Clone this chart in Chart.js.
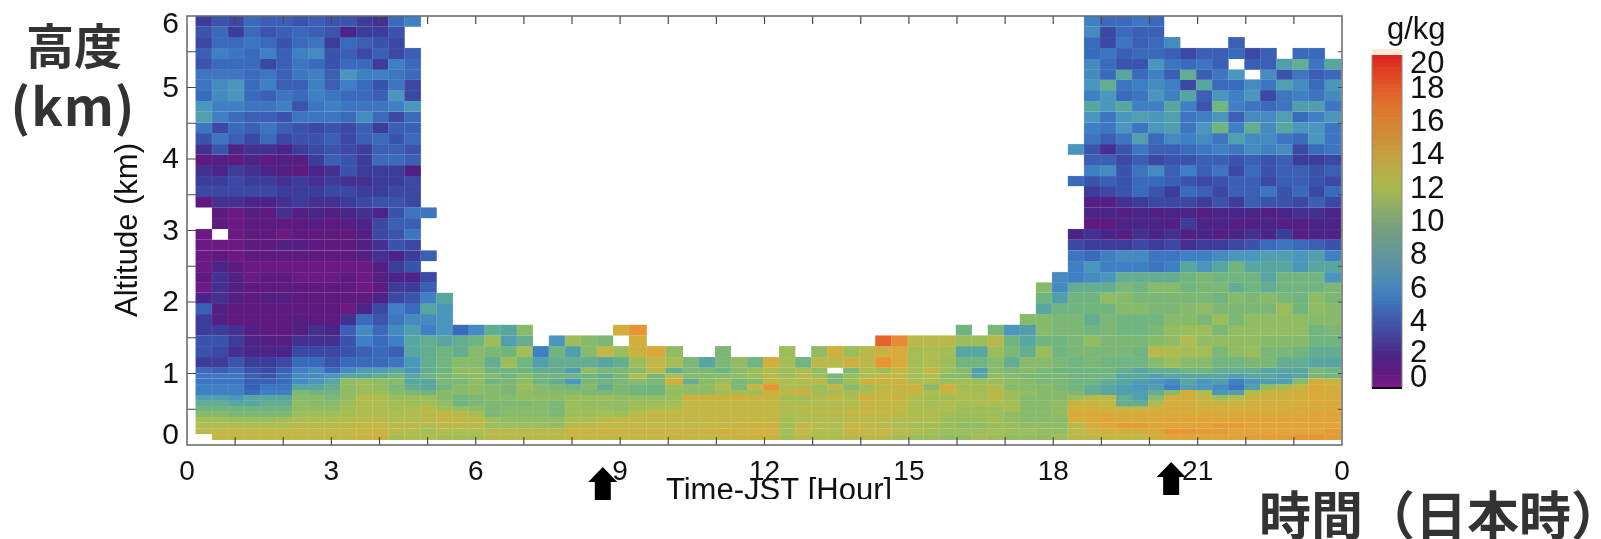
<!DOCTYPE html>
<html>
<head>
<meta charset="utf-8">
<script src="https://cdn.jsdelivr.net/npm/chart.js@4/dist/chart.umd.min.js"></script>
<style>
    body { margin: 0; background: #fff; }
    canvas { position: absolute; top: 0; }
</style>
</head>
<body>
<canvas id="mainChart" width="1601" height="539" style="left:0"></canvas>
<canvas id="barChart" width="251" height="539" style="left:1350px"></canvas>
<script>
const n = null;
const gap = count => new Array(count).fill(null);

// column centres, hours JST (the 9.75 column is wider in the source)
const times = [0.35,0.69,1.02,1.35,1.69,2.02,2.35,2.69,3.02,3.35,3.69,4.02,4.35,4.69,5.02,5.35,5.69,6.02,6.35,6.69,7.02,7.35,7.69,8.02,8.35,8.69,9.02,9.35,9.75,
    10.14,10.47,10.81,11.14,11.47,11.81,12.14,12.47,12.81,13.14,13.47,13.81,14.14,14.47,14.81,15.14,15.47,15.81,16.14,16.47,16.81,17.14,17.47,17.81,18.14,18.47,18.81,19.14,19.47,19.81,20.14,20.47,20.81,21.14,21.47,21.81,22.14,22.47,22.81,23.14,23.47,23.81];

// row edges, km
const altEdges = [6.00,5.85,5.70,5.55,5.40,5.25,5.11,4.96,4.81,4.66,4.51,4.36,4.21,4.06,3.91,3.76,3.62,3.47,3.32,3.17,3.02,2.87,2.72,2.57,2.42,2.27,2.13,1.98,1.83,1.68,1.53,1.38,1.23,1.08,
    1.00,0.93,0.85,0.77,0.70,0.62,0.54,0.47,0.39,0.31,0.23,0.15,0.07];

// g/kg, top 26 rows, left block (columns 0-14)
const upperLeft = [
    [3,4,3.5,5,4.5,4.5,4,4.5,4,4,3,2.5,5,6,n],
    [4,5,3,5,4,4.5,5,4.5,4,2,3,3,4,n,n],
    [3.5,5,5,5.5,5,4,5,5.5,3,5,4.5,4,3.5,n,n],
    [4.5,6,5.5,5,6,4.5,6,6.5,4,4.5,3.5,4.5,3.5,4.5,n],
    [4,5,5,5,3.5,4.5,5.5,5,4,5,5,3,6,5,n],
    [5.5,5.5,5.5,5,5.5,4.5,5.5,6,4.5,7,6,6,5.5,5,n],
    [5.5,6.5,7,5,6,4.5,4.5,6,4.5,6,5,4,5.5,3.5,n],
    [5,6.5,7,5,4.5,5.5,5,6,5.5,5,5,4.5,7,3.5,n],
    [7,6,6,5.5,5.5,6,4,5.5,6,5.5,5.5,5.5,6,7,n],
    [7.5,6,5,4.5,4.5,4,5.5,5.5,5.5,5,6.5,5,3.5,5,n],
    [5.5,3.5,5,4.5,5.5,4.5,4,3.5,4,3.5,4.5,3,4.5,4.5,n],
    [4,5.5,4.5,3.5,5,3.5,4,4,4.5,3.5,4.5,5,4,5,n],
    [2.5,4,2,2.5,2.5,2,3,3.5,4,3.5,3,4.5,4.5,4,n],
    [1,1.5,1,2,1,1.5,1.5,3,4.5,4,3,5,5,4.5,n],
    [2.5,2,3,2.5,2,1.5,1,2,2.5,4,3,3,3,1.5,n],
    [3,3,3.5,3,3,2.5,3,2.5,3,2.5,2.5,3,3,3.5,n],
    [3.5,3.5,3.5,3.5,3.5,3,3,3,3.5,3.5,3,3,3.5,3.5,n],
    [1,2.5,2.5,2,2,2.5,3,2.5,2.5,3,3.5,4,4,3.5,n],
    [n,1,0.5,1.5,1,2.5,1.5,2,1.5,2,2.5,2,4,5.5,5.5],
    [n,1,0.5,1,1,1,1,1.5,1,1.5,2,3.5,4.5,4.5,n],
    [0.5,n,0.5,1,1,0.5,1,1,1,1,1.5,3.5,4,5.5,n],
    [0.5,0.5,0.5,1,1,1.5,1.5,1,1,1,1.5,2.5,4,3.5,n],
    [0.5,1,0.5,1,1,1,1,1,1,1,1.5,2.5,2,3,4.5],
    [0.5,2,1,0.5,0.5,0.5,0.5,0.5,0.5,0.5,0.5,1.5,3,4,n],
    [1,2.5,1.5,0.5,1,1,0.5,0.5,0.5,1,0.5,1.5,2,2,3.5],
    [0.5,2.5,1.5,1,1,1,1,1,1,1,0.5,1,3,3,4.5]
];

// g/kg, top 26 rows, right block (columns 52-70)
const upperRight = [
    [n,n,n,6,5,5,5.5,5,n,n,n,n,n,n,n,n,n,n,n],
    [n,n,n,6.5,3.5,5,4.5,4.5,n,n,n,n,n,n,n,n,n,n,n],
    [n,n,n,5,3.5,5.5,4.5,5,6.5,n,n,n,4.5,n,n,n,n,n,n],
    [n,n,n,5,5.5,4.5,5,5,4.5,3.5,4.5,4.5,5,3.5,4.5,n,5,5,n],
    [n,n,n,6.5,5,4,4,7,5.5,5,5.5,4.5,n,4.5,4.5,7.5,8.5,5.5,8],
    [n,n,n,6.5,5,8,5,6,4.5,8.5,4.5,5.5,7,n,6.5,4,5.5,4.5,5],
    [n,n,n,7,8.5,5.5,6,6.5,6,3.5,8,5,5,6.5,5.5,7.5,6.5,5,7],
    [n,n,n,6,7,5,5.5,7,6,8,4.5,7,6,7,3.5,5.5,6,5.5,6.5],
    [n,n,n,8,7,8,6,6,8,6,4,9,6,5.5,5,5.5,7.5,7.5,5.5],
    [n,n,n,7,5.5,7,7.5,7,7.5,5.5,6,7,4.5,6.5,6.5,7.5,5,6,7],
    [n,n,n,6,5.5,7,5.5,7,7.5,5.5,7,9,6,8.5,6.5,8,7,7,5.5],
    [n,n,n,5.5,4.5,5.5,7.5,5,6.5,6,6.5,5.5,7.5,6.5,6.5,5.5,5,7,5.5],
    [n,n,7,4,2.5,4,5.5,4.5,4.5,5,5.5,6,5.5,6.5,6,6.5,3.5,5,5.5],
    [n,n,n,4.5,4.5,3.5,4.5,3.5,4,4,4.5,4.5,4,4.5,4,4.5,3,3,3.5],
    [n,n,n,6,6.5,4,5.5,6.5,4.5,6,4.5,5.5,3.5,5,4,4.5,4.5,4,4.5],
    [n,n,5,4,4.5,4,5,5,4.5,4,3.5,4,4.5,4.5,3.5,4.5,4.5,4,3.5],
    [n,n,n,3,3.5,4,5,4,3,5,4.5,3.5,4.5,4.5,5.5,4,5,3.5,5],
    [n,n,n,1.5,1.5,2.5,3,3.5,3.5,3.5,3,4,3,4.5,4,4,3.5,4.5,3.5],
    [n,n,n,2,2,1.5,2,1.5,2,2,1.5,2,2,2,1.5,2,2.5,2.5,2],
    [n,n,n,1,1,2,2,2,1.5,3,2,2,1.5,1.5,2,1.5,1.5,2,2],
    [n,n,2,2.5,2,1.5,2.5,2,2.5,1.5,2,1.5,2,2.5,2,3,1.5,2,2],
    [n,n,3.5,3,3,3,3.5,3,3.5,2.5,3,3,3.5,4,5,5.5,5,4.5,4],
    [n,n,5.5,5,6,6.5,6.5,5.5,5.5,6,6,6.5,7,7,7.5,7.5,7,7.5,6],
    [n,n,6,7,6,6,6,5.5,6,8,7,8,9,8,8,8,7,8,8],
    [n,6.5,6,6.5,7,8.5,8.5,8.5,8.5,9,9.5,9,9,9,8,9,9,9,7],
    [10,6.5,8.5,8.5,8.5,9.5,9,10,10,9,9.5,9.5,8.5,9,8.5,9,9,9,9.5]
];

// g/kg, seven rows between 2.13 and 1.08 km, all 71 columns
const midRows = [
    [2,2.5,1.5,1,1.5,1.5,1,1,1,1,1,2,3.5,4,6,8,...gap(36),9,7.5,9,9,10.5,10,9.5,9.5,9.5,9.5,9.5,9,10,9.5,10,9.5,9,10.5,9.5],
    [4.5,1.5,1,1,1,1,1,1,1,0.5,2,3.5,6,5,8,7,...gap(36),8,9,9,9,9,10,10,9.5,9.5,10,10.5,9.5,9.5,9.5,9.5,11,9,10.5,10],
    [3,1.5,1,1,1,1,1.5,1,1,2.5,5,4,5.5,6.5,6.5,7,...gap(35),10,10,9.5,9.5,8.5,9.5,9,9,9,10,10,9.5,11,9.5,10.5,10.5,10.5,10.5,10,10],
    [3,3,2.5,1.5,1,1,1.5,2.5,2,4.5,6.5,5,6.5,7.5,6,7,5,6.5,8.5,8,10,...gap(5),14,16,...gap(19),9,n,9.5,7,7.5,10,9.5,9.5,9,9.5,9,9,9.5,10.5,11,11,9.5,10.5,10.5,10.5,10.5,10.5,9,9.5],
    [4,4,3,2,1.5,1.5,2.5,2.5,2.5,4,6,5,6,8,8.5,8,8.5,9,11,7.5,8.5,n,7,11,10,9.5,n,14,...gap(14),18,16.5,12.5,12.5,12.5,11,11,12.5,9,8,9,9,9.5,10.5,9.5,9.5,9.5,10,10.5,12,10.5,10.5,10.5,10.5,10,10,10,9,9],
    [4,3.5,2.5,2,2,2,3.5,3.5,3.5,4,4.5,5,4.5,8,8.5,9,8.5,10,9.5,9,11.5,6,9,7.5,10,13,11,13.5,14.5,10.5,n,n,9.5,n,n,n,11,n,10.5,14,11,12.5,13.5,14.5,11.5,12,11.5,8,8,11,9.5,8.5,11,9,9.5,9.5,9.5,9.5,9,12.5,12,11.5,11.5,9.5,10.5,11,9.5,9.5,9,8.5,8.5],
    [3,3,4,3,3,3.5,5,5,4,5,5,5,5.5,7,8.5,9,10,10,8.5,11,9,7.5,8.5,8.5,8.5,8,8.5,11,13,11.5,9.5,8,9.5,10.5,9,14,11.5,9,12.5,12.5,13.5,12.5,16,14.5,11.5,12,11,9,9,10,8.5,10,10,9.5,9,9.5,9,9,9,10,11,10,10,9,9,9.5,9.5,8.5,8.5,8,8]
];

// g/kg, thin rows from 1.08 km down to 0.07 km
const lowRows = [
    [5,4.5,5,4,3.5,4.5,6,6.5,5,6.5,7.5,7.5,8,7,8.5,9,10.5,10.5, 9,9,9,8.5,8.5,7.5,10.5,9.5,9.5,10,12.5, 8.5,9.5,9.5,9,10,11,12,11,12,10.5,n,9.5,12,11,13,11.5,13,11, 10,7.5,10,9.5,10,9.5,9,9,9,9,8.5,8, 8.5,8.5,9,9,8.5,8.5,8.5,8,8,8,9.5,9],
    [5.5,5.5,5.5,4.5,4,5,6.5,6.5,7,8,8,8.5,9,8,9,9.5,10,10.5, 10,9,10,9,9,9,9,8.5,9.5,12,9.5, 12,10,10,10,10.5,11,12.5,11,12.5,11,9.5,11,12,13,13,11.5,12,10, 10,8,10.5,10,9.5,9.5,9.5,9,9,9,8,8, 7.5,8,8,8,8,7.5,8,8,7.5,8,9.5,9],
    [5.5,5.5,5.5,4.5,4.5,5,6.5,7,8,10.5,11,10.5,10,8,8,9.5,9.5,10.5, 9,9.5,10.5,9,8.5,7,9.5,9,9.5,10,9.5, 14,8.5,10,11,9.5,10,13,12,12,12.5,9.5,11,14,13.5,13.5,12,12,11, 11.5,11,11,10.5,10,9.5,9.5,9,9,8.5,8,7.5, 7,6.5,8,7,7.5,6,7,7.5,7.5,10,14,13.5],
    [6,6,6,4.5,5.5,5.5,8,8,8.5,10.5,11,10.5,9.5,8.5,8,9,10,10.5, 10,9.5,11,10,9.5,9,10,8.5,9.5,9,9, 11,10.5,10.5,12,9.5,13,16,12,12,11,13,10,11.5,12.5,13.5,13.5,10,14, 11.5,11.5,12,10,10,10,9.5,9,8.5,8,7.5,7, 7.5,6,7.5,7,6.5,5.5,7.5,10.5,11.5,13,14.5,14],
    [6,6,6,5,6,6,9.5,9,9,10.5,11,11,10,9.5,9,10,10,10.5, 10,9.5,10.5,10,10,10,9.5,9.5,9.5,9,9, 10.5,10.5,10.5,11.5,11.5,11,13.5,13,14,11.5,11.5,11.5,12,13,13,13,12,13, 12,11.5,12.5,11,10.5,10,10,9.5,8.5,8,7.5,7.5, 8.5,10,14,12,7,7.5,12,13.5,14,14,14.5,14],
    [7.5,7.5,7,8,8,8,10,10,9.5,10.5,12.5,12,11,11,11,10,9,9.5, 10,10,10.5,10.5,10.5,11,11,11,10.5,10.5,10.5, 11,14,13.5,13.5,14,13.5,13.5,11.5,11.5,12,13,12,14,13,13.5,12,11.5,11.5, 12,11.5,12.5,11,10,10,10,11,12.5,12.5,8.5,7.5, 10,14,14,13,11,12,13.5,13.5,13.5,14,14.5,14.5],
    [8.5,8.5,8,8,8.5,8.5,10.5,10,10,11,12,12,11.5,11,11.5,10.5,9,9.5, 9.5,9.5,9.5,10,9.5,11,10.5,10.5,10.5,11,11, 11.5,13,13,13,13,13,13,12,12,12,12,12,13,13,13,12,11.5,12, 11.5,12,12,11.5,10,10,10.5,13.5,13.5,13,8.5,8.5, 12,14,14,13.5,13.5,13.5,14,14,14,14,14.5,14.5],
    [9,9,9,9,9,9,10.5,10.5,10.5,11.5,12,12,11.5,12,12.5,11.5,11,10.5, 9.5,10,10,10,9.5,11,11,11,10.5,11.5,12, 12,13,13,13,13,13,13,12,12.5,12.5,12.5,12.5,13.5,13,13,12,12,12, 11,11,11,11.5,10,10,10.5,14,14,13.5,13,13, 14,14.5,14.5,14,14,14,14,14,14,14.5,14.5,14.5],
    [10,10,9.5,9.5,9.5,9.5,11,11,11,11.5,12,12,12,12,12.5,13,12.5,11.5, 9.5,10,10,10,9.5,11,11,11.5,11,12.5,13, 13,13,13,13,13,13,13,12,12,12.5,12.5,13,13,13,12.5,12,12,11.5, 11,11,11,10.5,10,10,10.5,14.5,14.5,14.5,14.5,14.5, 14.5,14.5,14.5,14.5,14.5,14.5,14.5,14.5,14.5,14.5,15,15],
    [11.5,11.5,11,11,11,11.5,12,12,12,12.5,12.5,12.5,12,12,12.5,13,13,12.5, 11,10.5,10.5,10.5,10.5,12,12,12.5,13,13,13, 13,13,13,13,13,13,13,11.5,12,12,12,12.5,12.5,12.5,12,12,12,11, 11,11,11.5,10.5,10,10,10,14,14.5,15,14.5,14.5, 14.5,15,15,15,15,15,15,15,15,15,15,15],
    [12,12,12,12,12,12,12.5,12.5,12.5,12.5,13,13,12.5,12.5,12,12.5,12.5,12.5, 11,11,11,11,10.5,12.5,12.5,13,13,13,13, 13,13,13,13,13.5,13.5,13.5,11.5,13,12.5,12,13,13,12.5,12,11.5,11.5,11, 10.5,10.5,11,11,10.5,10.5,10.5,12.5,14,15,15.5,15.5, 15,15,15,15,15.5,15.5,15,15,15,15,15,15],
    [12.5,13,13,13,13,13,13,13,13,13,13.5,13.5,12.5,12,11.5,12,12,12, 12.5,12.5,12.5,12.5,12.5,13.5,13.5,13.5,13.5,13.5,13.5, 13.5,13.5,13.5,14,13.5,14,14,11.5,13,12,12,13.5,13,13,12.5,12,11.5,11, 11,11,11.5,11,11,10.5,10.5,12.5,13.5,14,14,14, 14.5,16,16,15.5,15.5,15,15,15,15,15,15,15.5],
    [n,13,13,13,13,13,13,13,13,13,13.5,13.5,11.5,12,12,11.5,11.5,11.5, 12.5,12.5,12.5,12.5,12.5,13,13,13,13,13,13, 13.5,13,13,13,13.5,13.5,13.5,11.5,12.5,12,12,12.5,12.5,12.5,11.5,11,11,10.5, 10.5,11.5,11,10.5,10.5,10.5,11,12.5,12.5,13,13,13, 14,15,15,14.5,15,15,15.5,15.5,15.5,16,16,15.5]
];

const xTickHours = [0,3,6,9,12,15,18,21,24];
const yTickLabels = ['0','1','2','3','4','5','6'];
const barTickLabels = ['0','2','4','6','8','10','12','14','16','18','20'];
const arrowHours = [8.64, 20.45];

const cellColors = ['#7a1a88','#5e1a7e','#4a2488','#3c3c9a','#3a54ae','#3a6abc','#3f80c4','#4a96bc','#58a6a0','#70b480','#88ba6c','#9cbe5a','#aebc50','#c2b644','#d2ae3c','#e0a438','#e89434','#ea7e30','#e8622c','#e2402a','#dc2020'];
const barColors = ['#7a1a88','#5c1c80','#4c2788','#46409a','#3f58a8','#3f70b8','#4685bd','#558fa8','#64969a','#6f9c88','#7fa478','#93ae64','#a8b84e','#b8ae48','#c4a040','#cc8f3a','#d68232','#e0722c','#e25a28','#e04024','#dc2020'];

function colorAt(list, v, whiten) {
    const i = Math.min(Math.floor(v), list.length - 2);
    const t = v - i;
    const a = list[i], b = list[i + 1];
    let out = [];
    for (let p = 1; p < 7; p += 2) {
        const c1 = parseInt(a.substr(p, 2), 16);
        const c2 = parseInt(b.substr(p, 2), 16);
        const c = c1 + (c2 - c1) * t;
        out.push(Math.round(c + (255 - c) * (whiten || 0)));
    }
    return 'rgb(' + out.join(',') + ')';
}

const allRows = upperLeft.map((left, k) => [...left, ...gap(37), ...upperRight[k]]).concat(midRows, lowRows);

// same stack name so 'flex' widths work without grouping the rows side by side
const cellDatasets = allRows.map((row, k) => ({
    stack: 'cells',
    data: times.map((t, i) => ({x: t, y: row[i] === null ? null : [altEdges[k + 1], altEdges[k]]})),
    backgroundColor: row.map(v => v === null ? 'rgba(0,0,0,0)' : colorAt(cellColors, v)),
    borderColor: row.map(v => v === null ? 'rgba(0,0,0,0)' : colorAt(cellColors, v, 0.16)),
    borderWidth: 0.5
}));

const frameAndText = {
    id: 'frameAndText',
    afterDraw(chart) {
        const ctx = chart.ctx;
        const area = chart.chartArea;
        const xs = chart.scales.x;
        const ys = chart.scales.y;
        ctx.save();

        // inward ticks, hourly on x and half-hourly km on y
        ctx.strokeStyle = '#4a4a4a';
        ctx.lineWidth = 1.2;
        ctx.beginPath();
        for (let h = 1; h < 24; h++) {
            const px = xs.getPixelForValue(h);
            ctx.moveTo(px, area.bottom); ctx.lineTo(px, area.bottom - 8);
            ctx.moveTo(px, area.top); ctx.lineTo(px, area.top + 8);
        }
        for (let km = 0.5; km < 6; km += 0.5) {
            const py = ys.getPixelForValue(km);
            ctx.moveTo(area.left, py); ctx.lineTo(area.left + 9, py);
            ctx.moveTo(area.right, py); ctx.lineTo(area.right - 4, py);
        }
        ctx.stroke();

        ctx.strokeStyle = '#666';
        ctx.lineWidth = 1.5;
        ctx.strokeRect(area.left, area.top, area.right - area.left, area.bottom - area.top);

        // y tick labels, the end ones sit inside the axis range
        ctx.fillStyle = '#111';
        ctx.font = '30px "Liberation Sans"';
        ctx.textAlign = 'right';
        ctx.textBaseline = 'middle';
        yTickLabels.forEach((label, i) => {
            let nudge = 1;
            if (i === 0) nudge = -9;
            if (i === 6) nudge = 9;
            ctx.fillText(label, area.left - 8, ys.getPixelForValue(i) + nudge);
        });

        // axis titles
        ctx.font = '31px "Liberation Sans"';
        ctx.textAlign = 'center';
        ctx.save();
        ctx.translate(128, 230);
        ctx.rotate(-Math.PI / 2);
        ctx.fillText('Altitude (km)', 0, 0);
        ctx.restore();

        // source image cuts this title off at the bottom
        ctx.save();
        ctx.beginPath();
        ctx.rect(600, 470, 400, 29);
        ctx.clip();
        ctx.textBaseline = 'alphabetic';
        ctx.fillText('Time-JST [Hour]', 779, 500);
        ctx.restore();

        // arrows under the time axis
        ctx.fillStyle = '#000';
        arrowHours.forEach((h, i) => {
            const px = xs.getPixelForValue(h);
            const top = area.bottom + (i === 0 ? 22 : 17);
            ctx.beginPath();
            ctx.moveTo(px, top);
            ctx.lineTo(px + 14.5, top + 15);
            ctx.lineTo(px + 8, top + 15);
            ctx.lineTo(px + 8, top + 33);
            ctx.lineTo(px - 8, top + 33);
            ctx.lineTo(px - 8, top + 15);
            ctx.lineTo(px - 14.5, top + 15);
            ctx.closePath();
            ctx.fill();
        });

        // Japanese labels
        ctx.fillStyle = '#333';
        ctx.textBaseline = 'middle';
        ctx.textAlign = 'center';
        ctx.font = 'bold 48px "Noto Sans CJK JP"';
        ctx.fillText('高度', 74, 46);
        ctx.font = 'bold 52px "Noto Sans CJK JP"';
        ctx.letterSpacing = '1px';
        ctx.fillText('(km)', 73, 106);
        ctx.letterSpacing = '0px';
        ctx.textAlign = 'right';
        ctx.font = 'bold 52px "Noto Sans CJK JP"';
        ctx.fillText('時間（日本時）', 1623, 515);
        ctx.restore();
    }
};

new Chart(document.getElementById('mainChart'), {
    type: 'bar',
    data: {datasets: cellDatasets},
    plugins: [frameAndText],
    options: {
        responsive: false,
        animation: false,
        devicePixelRatio: 1,
        layout: {padding: {left: 187, right: 259, top: 16, bottom: 0}},
        datasets: {bar: {barThickness: 'flex', barPercentage: 1, categoryPercentage: 1}},
        plugins: {legend: {display: false}, tooltip: {enabled: false}},
        scales: {
            x: {
                type: 'linear',
                offset: false,
                min: 0,
                max: 24,
                grid: {display: false},
                border: {display: false},
                afterFit: scale => { scale.height = 94; },
                ticks: {
                    stepSize: 1,
                    autoSkip: false,
                    maxRotation: 0,
                    padding: 2,
                    color: '#111',
                    font: {family: 'Liberation Sans', size: 28},
                    callback: value => xTickHours.includes(value) ? String(value % 24) : ''
                }
            },
            y: {display: false, stacked: false, min: 0, max: 6}
        }
    }
});

const barLevels = [];
for (let v = 0; v < 20; v += 0.25) barLevels.push(v);

const barFrame = {
    id: 'barFrame',
    afterDraw(chart) {
        const ctx = chart.ctx;
        const area = chart.chartArea;
        const ys = chart.scales.y;
        ctx.save();
        ctx.fillStyle = '#fdebd8';
        ctx.fillRect(area.left, area.top - 6, area.right - area.left, 6);
        ctx.strokeStyle = '#888';
        ctx.lineWidth = 1;
        ctx.beginPath();
        ctx.moveTo(area.left, area.top); ctx.lineTo(area.left, area.bottom);
        ctx.moveTo(area.right, area.top); ctx.lineTo(area.right, area.bottom);
        ctx.stroke();
        ctx.fillStyle = '#111';
        ctx.fillRect(area.left, area.bottom - 1, area.right - area.left, 2);

        ctx.font = '31px "Liberation Sans"';
        ctx.textAlign = 'left';
        ctx.textBaseline = 'middle';
        barTickLabels.forEach((label, i) => {
            let nudge = 1;
            if (i === 0) nudge = -10;
            if (i === 1) nudge = -1;
            if (i === 10) nudge = 9;
            ctx.fillText(label, area.right + 8, ys.getPixelForValue(Number(label)) + nudge);
        });
        ctx.font = '31px "Liberation Sans"';
        ctx.fillText('g/kg', area.left + 15, 30);
        ctx.restore();
    }
};

new Chart(document.getElementById('barChart'), {
    type: 'bar',
    data: {
        labels: ['g/kg'],
        datasets: barLevels.map(v => ({
            data: [[v, v + 0.25]],
            backgroundColor: colorAt(barColors, v + 0.125),
            borderWidth: 0
        }))
    },
    plugins: [barFrame],
    options: {
        responsive: false,
        animation: false,
        devicePixelRatio: 1,
        layout: {padding: {left: 22, right: 199, top: 55, bottom: 151}},
        datasets: {bar: {grouped: false, barPercentage: 1, categoryPercentage: 1}},
        plugins: {legend: {display: false}, tooltip: {enabled: false}},
        scales: {
            x: {display: false},
            y: {display: false, min: 0, max: 20}
        }
    }
});
</script>
</body>
</html>
